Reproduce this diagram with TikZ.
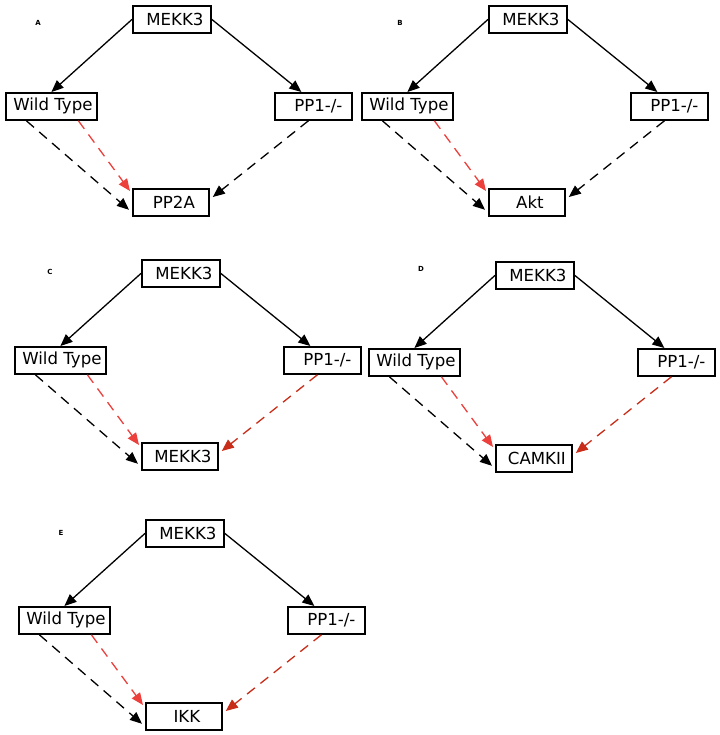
\documentclass[tikz,border=0pt]{standalone}
\usepackage{fontspec}
\setmainfont{DejaVu Sans}
\usetikzlibrary{arrows.meta}
\definecolor{lred}{RGB}{236,64,60}
\definecolor{dred}{RGB}{200,45,25}
\tikzset{
  box/.style={draw, line width=1.8pt, minimum height=27pt, inner sep=0pt, anchor=north west, font=\fontsize{16.6}{18}\selectfont},
  solidarrow/.style={line width=1.3pt, -{Triangle[length=12pt,width=10pt]}},
  dasharrow/.style={line width=1.3pt, dash pattern=on 10pt off 7pt, -{Triangle[length=12pt,width=10pt]}},
  plabel/.style={font=\fontsize{7}{8}\selectfont\bfseries, inner sep=0pt}
}
% #1 prefix, #2 ox, #3 oy, #4 letter, #5 bottom text, #6 colour of PP1 edge, #7 label dx, #8 label dy
\newcommand{\mypanel}[8]{%
\begin{scope}[shift={(#2,#3)}]
  \node[box, minimum width=78pt] (#1m) at (0,0) {\hspace*{6pt}MEKK3};
  \node[box, minimum width=91pt] (#1w) at (-127,87) {\hspace*{3pt}Wild Type};
  \node[box, minimum width=77pt] (#1p) at (142,87) {\hspace*{10pt}PP1-/-};
  \node[box, minimum width=76pt] (#1t) at (0,183) {\hspace*{6pt}#5};
  \node[plabel] (#1l) at (#7,#8) {#4};
  \draw[solidarrow] (#1m.west) -- (#1w.north);
  \draw[solidarrow] (#1m.east) -- ([xshift=-12pt]#1p.north);
  \draw[dasharrow] ([xshift=-25pt]#1w.south) -- ([xshift=-3pt,yshift=7pt]#1t.south west);
  \draw[dasharrow, lred] ([xshift=27pt]#1w.south) -- ([xshift=-2pt,yshift=-3pt]#1t.north west);
  \draw[dasharrow, #6] ([xshift=-5pt]#1p.south) -- ([xshift=3pt,yshift=-9pt]#1t.north east);
\end{scope}}
\begin{document}
\begin{tikzpicture}[x=1pt,y=-1pt]
\useasboundingbox (0,0) rectangle (719,735);
\mypanel{a}{132}{5}{A}{PP2A}{black}{-94}{18}
\mypanel{b}{488}{5}{B}{Akt}{black}{-88}{18}
\mypanel{c}{141}{259}{C}{MEKK3}{dred}{-91}{13}
\mypanel{d}{495}{261}{D}{CAMKII}{dred}{-74}{8}
\mypanel{e}{145}{519}{E}{IKK}{dred}{-84}{14}
\end{tikzpicture}
\end{document}
